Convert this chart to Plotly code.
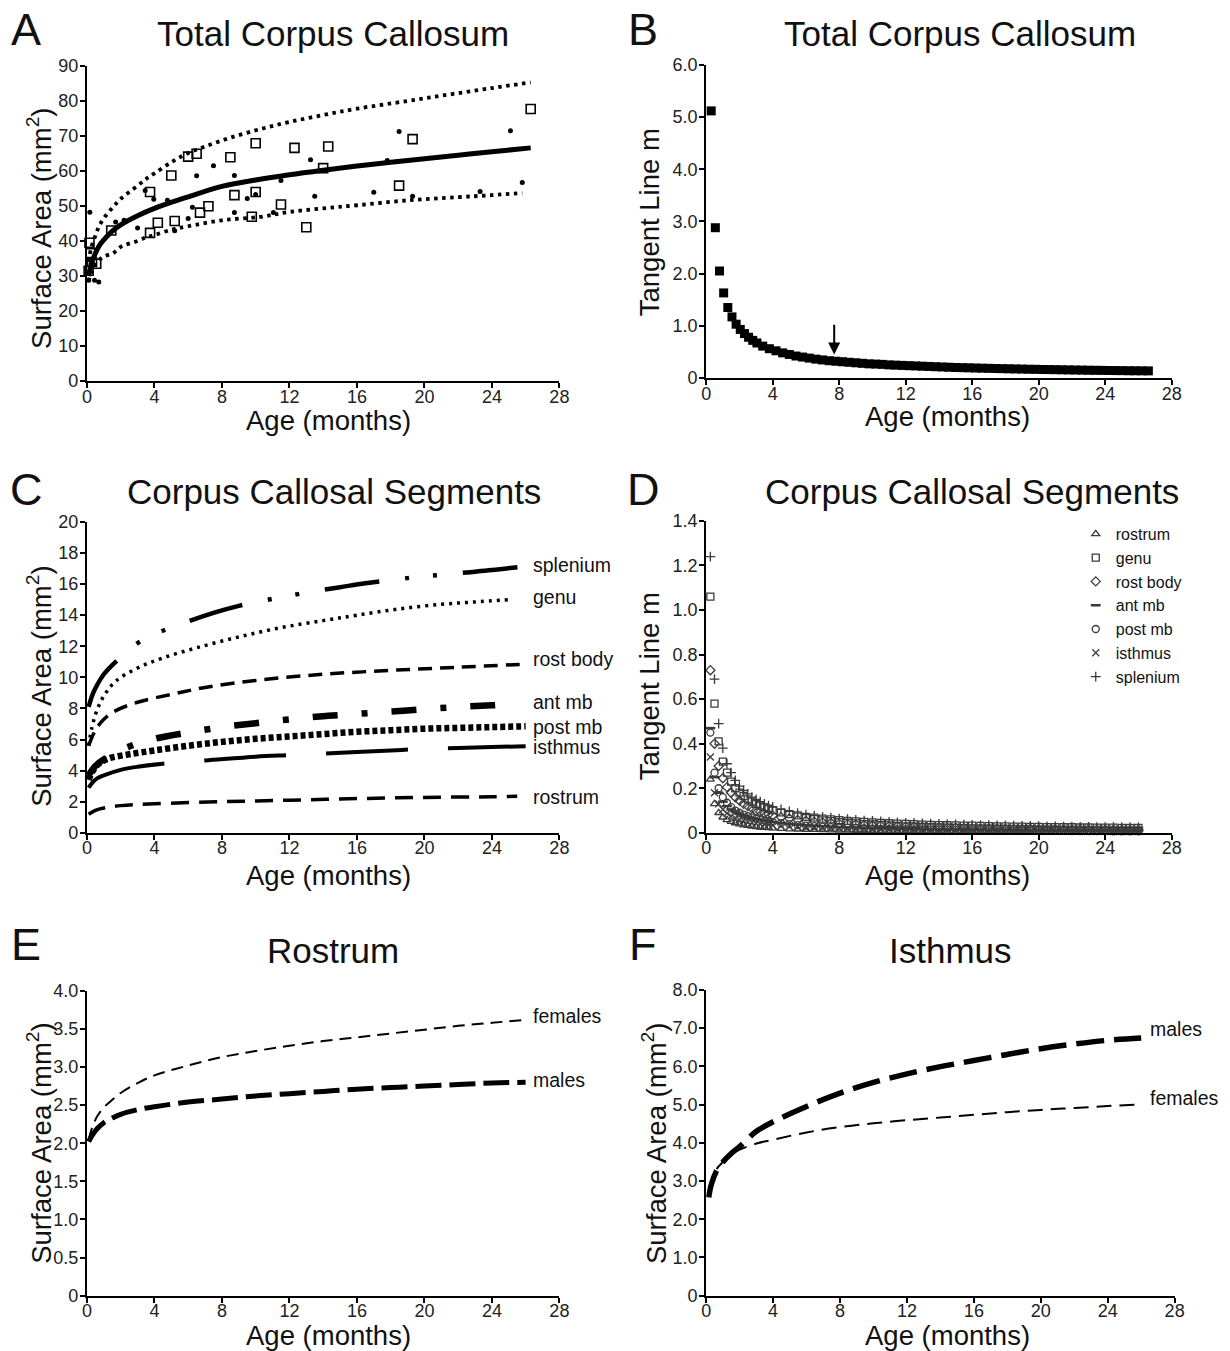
import plotly.graph_objects as go

W, H = 1230, 1351
FONT = "Liberation Sans, Arial, sans-serif"

# ---------------- Panel A: total corpus callosum surface area ----------------
a_sq_x = [0.1, 0.15, 0.2, 0.3, 0.55, 1.44, 3.74, 3.74, 4.2, 5.0, 5.2, 6.0, 6.5, 6.7, 7.2, 8.5, 8.74,
          10.0, 10.0, 9.77, 11.5, 12.3, 13.0, 14.0, 14.3, 18.5, 19.3, 26.3]
a_sq_y = [31.5, 39.5, 36.5, 34.0, 33.5, 43.0, 54.0, 42.3, 45.2, 58.7, 45.7, 64.1, 64.9, 48.1, 49.9, 63.9, 53.1,
          67.9, 54.0, 46.9, 50.4, 66.6, 43.9, 60.8, 67.0, 55.8, 69.1, 77.7]
a_dot_x = [0.17, 0.1, 0.45, 0.7, 0.25, 1.7, 2.2, 3.0, 3.45, 3.96, 4.77, 5.2, 6.0, 6.25, 6.5, 7.5, 8.74, 8.74,
           9.5, 10.0, 11.05, 11.5, 13.25, 13.5, 17.0, 17.8, 18.5, 19.3, 23.3, 25.1, 25.8]
a_dot_y = [48.2, 28.8, 28.8, 28.3, 34.5, 45.4, 45.9, 43.7, 54.4, 51.9, 51.6, 42.9, 46.4, 49.6, 58.6, 61.5, 58.7, 48.1,
           52.1, 53.3, 48.1, 57.3, 63.2, 52.8, 53.9, 63.0, 71.3, 52.8, 54.1, 71.5, 56.7]
a_fit_x = [0.1, 0.25, 0.5, 0.75, 1, 1.5, 2, 3, 4, 6, 8, 10, 12, 14, 16, 18, 20, 22, 24, 26.3]
a_fit_y = [30.0, 33.3, 36.5, 38.8, 40.3, 42.8, 44.6, 47.2, 49.3, 52.6, 55.6, 57.4, 58.9, 60.2, 61.4, 62.5, 63.5,
           64.5, 65.5, 66.6]
a_up_x = [0.1, 0.25, 0.5, 0.7, 1, 1.55, 2, 3, 3.5, 4, 5, 5.9, 7, 8.5, 10.3, 12, 14, 16, 19, 21, 24, 26.3]
a_up_y = [34.0, 38.0, 41.5, 44.0, 46.5, 49.7, 52.0, 55.8, 57.7, 59.3, 62.5, 64.9, 67.0, 69.5, 72.0, 74.0, 76.0,
          77.8, 80.0, 81.5, 83.7, 85.3]
a_lo_x = [0.1, 0.25, 0.5, 1, 1.55, 2, 3, 3.5, 4, 5, 6, 8, 10.3, 12, 14, 16, 19, 22, 24, 25.8]
a_lo_y = [28.5, 31.0, 33.5, 35.5, 36.5, 38.3, 40.0, 41.0, 41.7, 43.2, 44.2, 45.9, 46.9, 48.3, 49.3, 50.2, 51.6,
          52.5, 53.1, 53.7]

# ---------------- Panel B: tangent slope, total ----------------
b_x = [0.3, 0.55, 0.8, 1.05, 1.3, 1.55, 1.8, 2.05, 2.3, 2.55, 2.8, 3.05,
       3.4, 3.8, 4.2, 4.6, 5.0, 5.4, 5.8, 6.2, 6.6, 7.0, 7.4, 7.8, 8.2, 8.6, 9.0, 9.4, 9.8, 10.2,
       10.6, 11.0, 11.4, 11.8, 12.2, 12.6, 13.0, 13.4, 13.8, 14.2, 14.6, 15.0, 15.4, 15.8, 16.2, 16.6,
       17.0, 17.4, 17.8, 18.2, 18.6, 19.0, 19.4, 19.8, 20.2, 20.6, 21.0, 21.4, 21.8, 22.2, 22.6, 23.0,
       23.4, 23.8, 24.2, 24.6, 25.0, 25.4, 25.8, 26.2, 26.6]
b_m = [5.12, 2.88, 2.05, 1.63, 1.35, 1.17, 1.03, 0.93, 0.85, 0.78, 0.72, 0.67,
       0.61, 0.56, 0.52, 0.48, 0.45, 0.42, 0.40, 0.38, 0.36, 0.345, 0.33, 0.32, 0.31, 0.30, 0.29, 0.28,
       0.27, 0.265, 0.26, 0.25, 0.245, 0.24, 0.235, 0.23, 0.225, 0.22, 0.215, 0.21, 0.205, 0.20, 0.197,
       0.194, 0.19, 0.187, 0.184, 0.181, 0.178, 0.175, 0.172, 0.17, 0.167, 0.165, 0.162, 0.16, 0.158,
       0.156, 0.154, 0.152, 0.15, 0.148, 0.146, 0.145, 0.143, 0.141, 0.14, 0.138, 0.137, 0.136, 0.135]
b_arrow_x = 7.7
b_arrow_tip = 0.45
b_arrow_tail = 1.05

# ---------------- Panel C: segment fits ----------------
splenium_x = [0.1, 0.3, 0.5, 1.0, 1.7, 3.0, 4.5, 6.0, 7.5, 9.0, 10.5, 12.0, 13.5, 15.0, 16.5, 18.0, 19.5, 21.0,
              22.5, 24.0, 25.6]
splenium_y = [8.1, 8.8, 9.3, 10.2, 11.0, 12.2, 13.0, 13.6, 14.15, 14.6, 14.95, 15.25, 15.55, 15.8, 16.05, 16.25,
              16.45, 16.6, 16.75, 16.9, 17.1]
genu_x = [0.1, 0.3, 0.6, 1.0, 1.7, 3.0, 4.5, 6.5, 9.0, 11.5, 14.0, 16.0, 18.5, 21.0, 23.0, 25.0]
genu_y = [5.6, 6.8, 7.9, 8.8, 9.75, 10.6, 11.25, 11.9, 12.6, 13.2, 13.65, 14.0, 14.4, 14.7, 14.85, 15.0]
rostbody_x = [0.1, 0.5, 1.0, 1.6, 3.0, 5.0, 7.0, 10.0, 14.0, 18.0, 22.0, 26.0]
rostbody_y = [5.6, 6.6, 7.3, 7.8, 8.4, 8.9, 9.35, 9.8, 10.2, 10.45, 10.65, 10.85]
antmb_x = [0.1, 0.5, 1.1, 2.5, 4.2, 6.0, 8.0, 10.0, 12.0, 14.0, 16.0, 18.0, 20.0, 22.0, 24.0, 24.8]
antmb_y = [3.7, 4.3, 4.8, 5.55, 6.1, 6.45, 6.8, 7.05, 7.3, 7.5, 7.65, 7.8, 7.95, 8.1, 8.2, 8.25]
postmb_x = [0.1, 0.3, 0.6, 1.0, 1.5, 2.5, 4.0, 6.0, 8.0, 10.0, 12.0, 14.0, 16.0, 18.0, 20.0, 22.0, 24.0, 26.0]
postmb_y = [3.4, 3.9, 4.35, 4.65, 4.85, 5.05, 5.3, 5.6, 5.85, 6.05, 6.2, 6.35, 6.5, 6.6, 6.7, 6.75, 6.8, 6.85]
isthmus_x = [0.1, 0.3, 0.6, 1.0, 2.0, 3.0, 4.5, 7.0, 10.0, 12.0, 14.0, 16.0, 18.0, 20.0, 22.0, 24.0, 26.0]
isthmus_y = [2.9, 3.2, 3.5, 3.7, 4.05, 4.25, 4.45, 4.65, 4.9, 5.0, 5.1, 5.2, 5.3, 5.4, 5.45, 5.52, 5.57]
rostrum_x = [0.1, 0.5, 1.0, 2.0, 4.0, 8.0, 12.0, 16.0, 20.0, 24.0, 25.5]
rostrum_y = [1.2, 1.45, 1.6, 1.75, 1.87, 2.0, 2.1, 2.2, 2.28, 2.32, 2.35]
c_labels = ["splenium", "genu", "rost body", "ant mb", "post mb", "isthmus", "rostrum"]
c_label_y = [17.2, 15.2, 11.2, 8.4, 6.8, 5.5, 2.3]

# ---------------- Panel D: segment tangent slopes ----------------
d_x = [0.25, 0.5, 0.75, 1.0, 1.25, 1.5, 1.75, 2.0, 2.25, 2.5, 2.75, 3.0, 3.25, 3.5, 3.75, 4.0,
       4.5, 5.0, 5.5, 6.0, 6.5, 7.0, 7.5, 8.0, 8.5, 9.0, 9.5, 10.0, 10.5, 11.0, 11.5, 12.0, 12.5, 13.0,
       13.5, 14.0, 14.5, 15.0, 15.5, 16.0, 16.5, 17.0, 17.5, 18.0, 18.5, 19.0, 19.5, 20.0, 20.5, 21.0,
       21.5, 22.0, 22.5, 23.0, 23.5, 24.0, 24.5, 25.0, 25.5, 26.0]
d_rostrum = [0.24, 0.13, 0.09, 0.07, 0.058, 0.05, 0.044, 0.039, 0.035, 0.032, 0.029, 0.027, 0.025, 0.024, 0.022, 0.021,
             0.019, 0.017, 0.016, 0.015, 0.014, 0.013, 0.012, 0.011, 0.011, 0.010, 0.010, 0.009, 0.009, 0.008,
             0.008, 0.008, 0.007, 0.007, 0.007, 0.007, 0.006, 0.006, 0.006, 0.006, 0.006, 0.005, 0.005, 0.005,
             0.005, 0.005, 0.005, 0.005, 0.004, 0.004, 0.004, 0.004, 0.004, 0.004, 0.004, 0.004, 0.004, 0.004,
             0.004, 0.003]
d_genu = [1.06, 0.58, 0.41, 0.32, 0.27, 0.23, 0.20, 0.18, 0.165, 0.15, 0.14, 0.13, 0.122, 0.115, 0.108, 0.102,
          0.092, 0.084, 0.078, 0.072, 0.068, 0.064, 0.060, 0.057, 0.054, 0.051, 0.049, 0.047, 0.045, 0.043,
          0.041, 0.040, 0.039, 0.037, 0.036, 0.035, 0.034, 0.033, 0.032, 0.032, 0.031, 0.030, 0.029, 0.029,
          0.028, 0.028, 0.027, 0.027, 0.026, 0.026, 0.025, 0.025, 0.024, 0.024, 0.023, 0.023, 0.023, 0.022,
          0.022, 0.022]
d_rostbody = [0.73, 0.40, 0.30, 0.245, 0.205, 0.18, 0.16, 0.145, 0.13, 0.12, 0.11, 0.10, 0.095, 0.088, 0.083, 0.078,
              0.070, 0.064, 0.058, 0.054, 0.050, 0.047, 0.044, 0.041, 0.039, 0.037, 0.035, 0.033, 0.032, 0.030,
              0.029, 0.028, 0.027, 0.026, 0.025, 0.024, 0.023, 0.023, 0.022, 0.021, 0.021, 0.020, 0.020, 0.019,
              0.019, 0.018, 0.018, 0.017, 0.017, 0.017, 0.016, 0.016, 0.016, 0.015, 0.015, 0.015, 0.014, 0.014,
              0.014, 0.014]
d_antmb = [0.47, 0.25, 0.18, 0.14, 0.12, 0.105, 0.095, 0.085, 0.078, 0.072, 0.067, 0.062, 0.058, 0.055, 0.052, 0.049,
           0.044, 0.040, 0.037, 0.034, 0.032, 0.030, 0.028, 0.026, 0.025, 0.024, 0.023, 0.022, 0.021, 0.020,
           0.019, 0.018, 0.018, 0.017, 0.016, 0.016, 0.015, 0.015, 0.014, 0.014, 0.013, 0.013, 0.013, 0.012,
           0.012, 0.012, 0.011, 0.011, 0.011, 0.011, 0.010, 0.010, 0.010, 0.010, 0.009, 0.009, 0.009, 0.009,
           0.009, 0.008]
d_postmb = [0.45, 0.27, 0.20, 0.16, 0.135, 0.115, 0.10, 0.09, 0.082, 0.075, 0.069, 0.064, 0.059, 0.055, 0.052, 0.049,
            0.043, 0.039, 0.035, 0.032, 0.030, 0.028, 0.026, 0.024, 0.023, 0.022, 0.020, 0.019, 0.018, 0.018,
            0.017, 0.016, 0.015, 0.015, 0.014, 0.014, 0.013, 0.013, 0.012, 0.012, 0.012, 0.011, 0.011, 0.011,
            0.010, 0.010, 0.010, 0.009, 0.009, 0.009, 0.009, 0.008, 0.008, 0.008, 0.008, 0.008, 0.007, 0.007,
            0.007, 0.007]
d_isthmus = [0.34, 0.18, 0.13, 0.105, 0.088, 0.076, 0.067, 0.060, 0.055, 0.050, 0.046, 0.043, 0.040, 0.038, 0.036,
             0.034, 0.031, 0.028, 0.026, 0.024, 0.022, 0.021, 0.020, 0.019, 0.018, 0.017, 0.016, 0.015, 0.015,
             0.014, 0.014, 0.013, 0.013, 0.012, 0.012, 0.011, 0.011, 0.011, 0.010, 0.010, 0.010, 0.009, 0.009,
             0.009, 0.009, 0.008, 0.008, 0.008, 0.008, 0.008, 0.007, 0.007, 0.007, 0.007, 0.007, 0.007, 0.006,
             0.006, 0.006, 0.006]
d_splenium = [1.24, 0.69, 0.49, 0.38, 0.31, 0.27, 0.235, 0.21, 0.19, 0.175, 0.16, 0.15, 0.14, 0.13, 0.122, 0.116,
              0.105, 0.096, 0.088, 0.082, 0.077, 0.072, 0.068, 0.064, 0.061, 0.058, 0.055, 0.053, 0.051, 0.049,
              0.047, 0.045, 0.044, 0.042, 0.041, 0.040, 0.039, 0.038, 0.037, 0.036, 0.035, 0.034, 0.033, 0.033,
              0.032, 0.031, 0.031, 0.030, 0.029, 0.029, 0.028, 0.028, 0.027, 0.027, 0.026, 0.026, 0.025, 0.025,
              0.025, 0.024]

# ---------------- Panel E: rostrum by sex ----------------
e_x = [0.1, 0.3, 0.6, 1, 1.5, 2, 3, 4, 6, 8, 10, 12, 14, 16, 18, 20, 22, 24, 26]
e_females = [2.05, 2.2, 2.35, 2.47, 2.57, 2.66, 2.79, 2.89, 3.02, 3.13, 3.21, 3.28, 3.34, 3.39, 3.44, 3.49, 3.54,
             3.58, 3.62]
e_males = [2.02, 2.1, 2.19, 2.27, 2.33, 2.38, 2.44, 2.48, 2.54, 2.58, 2.62, 2.65, 2.68, 2.71, 2.73, 2.75, 2.77,
           2.79, 2.8]

# ---------------- Panel F: isthmus by sex ----------------
f_x = [0.15, 0.3, 0.6, 1, 1.5, 2, 3, 4, 6, 8, 10, 12, 14, 16, 18, 20, 22, 24, 26]
f_males = [2.57, 2.9, 3.25, 3.5, 3.72, 3.9, 4.3, 4.55, 4.95, 5.3, 5.58, 5.8, 5.99, 6.15, 6.31, 6.46, 6.58, 6.68, 6.74]
f_females = [2.75, 3.0, 3.3, 3.5, 3.7, 3.82, 3.98, 4.08, 4.27, 4.41, 4.51, 4.59, 4.66, 4.73, 4.8, 4.86, 4.91, 4.96,
             5.0]

x_ticks = [0, 4, 8, 12, 16, 20, 24, 28]

# photographed page is slightly rescaled; compensate pixel placement
XS, XO = 0.989, 3.95
YS, YO = 0.9854, 10.0


def pxx(x):
    return ((x - XO) / XS) / W


def pyy(y):
    return 1 - ((y - YO) / YS) / H


fig = go.Figure()

# Panel A
for ux, uy in [(a_up_x, a_up_y), (a_lo_x, a_lo_y)]:
    fig.add_trace(go.Scatter(x=ux, y=uy, mode="lines",
                             line=dict(color="black", width=3.8, dash="3.5px,4.5px", shape="spline"),
                             xaxis="x", yaxis="y", showlegend=False))
fig.add_trace(go.Scatter(x=a_fit_x, y=a_fit_y, mode="lines", line=dict(color="black", width=5, shape="spline"),
                         xaxis="x", yaxis="y", showlegend=False))
fig.add_trace(go.Scatter(x=a_sq_x, y=a_sq_y, mode="markers", cliponaxis=False,
                         marker=dict(symbol="square-open", size=9, color="black", line=dict(width=1.6)),
                         xaxis="x", yaxis="y", showlegend=False))
fig.add_trace(go.Scatter(x=a_dot_x, y=a_dot_y, mode="markers", cliponaxis=False,
                         marker=dict(symbol="circle", size=5, color="black"),
                         xaxis="x", yaxis="y", showlegend=False))

# Panel B
fig.add_trace(go.Scatter(x=b_x, y=b_m, mode="markers", cliponaxis=False,
                         marker=dict(symbol="square", size=9, color="black"),
                         xaxis="x2", yaxis="y2", showlegend=False))

# Panel C
c_series = [
    (splenium_x, splenium_y, 4.5, "55px,26px,4px,24px,4px,26px"),
    (genu_x, genu_y, 3.5, "3px,5px"),
    (rostbody_x, rostbody_y, 3.5, "14px,8px"),
    (antmb_x, antmb_y, 6.5, "25px,24px,6px,24px"),
    (postmb_x, postmb_y, 6.5, "5px,3px"),
    (isthmus_x, isthmus_y, 4, "82px,40px"),
    (rostrum_x, rostrum_y, 3.5, "18px,10px"),
]
for sx, sy, w, d in c_series:
    fig.add_trace(go.Scatter(x=sx, y=sy, mode="lines", line=dict(color="black", width=w, dash=d, shape="spline"),
                             xaxis="x3", yaxis="y3", showlegend=False))

# Panel D
d_series = [
    ("rostrum", d_rostrum, "triangle-up-open"),
    ("genu", d_genu, "square-open"),
    ("rost body", d_rostbody, "diamond-open"),
    ("ant mb", d_antmb, "line-ew-open"),
    ("post mb", d_postmb, "circle-open"),
    ("isthmus", d_isthmus, "x-thin-open"),
    ("splenium", d_splenium, "cross-thin-open"),
]
for name, vals, sym in d_series:
    fig.add_trace(go.Scatter(x=d_x, y=vals, mode="markers", name=name, cliponaxis=False,
                             marker=dict(symbol=sym, size=7, color="#3a3a3a",
                                         line=dict(width=1.3 if sym != "line-ew-open" else 2.5, color="#3a3a3a")),
                             xaxis="x4", yaxis="y4", showlegend=True))

# Panel E
fig.add_trace(go.Scatter(x=e_x, y=e_females, mode="lines", line=dict(color="black", width=2, dash="12px,7px", shape="spline"),
                         xaxis="x5", yaxis="y5", showlegend=False))
fig.add_trace(go.Scatter(x=e_x, y=e_males, mode="lines", line=dict(color="black", width=5, dash="26px,8px", shape="spline"),
                         xaxis="x5", yaxis="y5", showlegend=False))

# Panel F
fig.add_trace(go.Scatter(x=f_x, y=f_females, mode="lines", line=dict(color="black", width=2, dash="15px,8px", shape="spline"),
                         xaxis="x6", yaxis="y6", showlegend=False))
fig.add_trace(go.Scatter(x=f_x, y=f_males, mode="lines", line=dict(color="black", width=5.5, dash="28px,10px", shape="spline"),
                         xaxis="x6", yaxis="y6", showlegend=False))

TICKFONT = dict(size=18, color="#222", family=FONT)


def xaxis(x0, x1, anchor):
    return dict(domain=[pxx(x0), pxx(x1)], range=[0, 28], tickvals=x_ticks, anchor=anchor,
                showline=True, linecolor="black", linewidth=2, ticks="outside", ticklen=5, tickwidth=2,
                tickcolor="black", showgrid=False, zeroline=False, fixedrange=True, tickfont=TICKFONT,
                ticklabelstandoff=-7)


def yaxis(y_top, y_bot, rng, tv, tt, anchor):
    return dict(domain=[pyy(y_bot), pyy(y_top)], range=rng, tickvals=tv, ticktext=tt, anchor=anchor,
                showline=True, linecolor="black", linewidth=2, ticks="outside", ticklen=5, tickwidth=2,
                tickcolor="black", showgrid=False, zeroline=False, fixedrange=True, tickfont=TICKFONT,
                ticklabelstandoff=-2)


a_yt = list(range(0, 91, 10))
b_yt = [0, 1, 2, 3, 4, 5, 6]
c_yt = list(range(0, 21, 2))
d_yt = [0, 0.2, 0.4, 0.6, 0.8, 1.0, 1.2, 1.4]
e_yt = [0, 0.5, 1.0, 1.5, 2.0, 2.5, 3.0, 3.5, 4.0]
f_yt = [0, 1, 2, 3, 4, 5, 6, 7, 8]

layout = dict(
    width=W, height=H, margin=dict(l=0, r=0, t=0, b=0),
    paper_bgcolor="white", plot_bgcolor="white",
    font=dict(family=FONT, color="#111"),
    xaxis=xaxis(86, 559, "y"),
    yaxis=yaxis(66, 381, [0, 90], a_yt, [str(v) for v in a_yt], "x"),
    xaxis2=xaxis(706, 1172, "y2"),
    yaxis2=yaxis(65, 378, [0, 6], b_yt, ["0"] + [f"{v:.1f}" for v in b_yt[1:]], "x2"),
    xaxis3=xaxis(86, 559, "y3"),
    yaxis3=yaxis(522, 833, [0, 20], c_yt, [str(v) for v in c_yt], "x3"),
    xaxis4=xaxis(706, 1172, "y4"),
    yaxis4=yaxis(521, 833, [0, 1.4], d_yt, ["0"] + [f"{v:.1f}" for v in d_yt[1:]], "x4"),
    xaxis5=xaxis(86, 559, "y5"),
    yaxis5=yaxis(991, 1296, [0, 4], e_yt, ["0"] + [f"{v:.1f}" for v in e_yt[1:]], "x5"),
    xaxis6=xaxis(706, 1175, "y6"),
    yaxis6=yaxis(990, 1296, [0, 8], f_yt, ["0"] + [f"{v:.1f}" for v in f_yt[1:]], "x6"),
    legend=dict(x=pxx(1076), y=pyy(517), xanchor="left", yanchor="top", bgcolor="rgba(0,0,0,0)",
                font=dict(size=16, color="#111", family=FONT), tracegroupgap=0, itemwidth=30),
    showlegend=True,
)
fig.update_layout(**layout)

ann = []


def text(x, y, s, size, **kw):
    d = dict(x=pxx(x), y=pyy(y), xref="paper", yref="paper", text=s, showarrow=False,
             font=dict(size=size, color="#111", family=FONT), xanchor="center", yanchor="middle")
    d.update(kw)
    ann.append(d)


# panel letters
for lx, ly, s in [(25, 30, "A"), (643, 30, "B"), (25, 490, "C"), (643, 490, "D"), (25, 945, "E"), (643, 945, "F")]:
    text(lx, ly, s, 45)
# titles
for tx, ty, s in [(332, 34, "Total Corpus Callosum"), (960, 34, "Total Corpus Callosum"),
                  (333, 492, "Corpus Callosal Segments"), (972, 492, "Corpus Callosal Segments"),
                  (332, 951, "Rostrum"), (951, 951, "Isthmus")]:
    text(tx, ty, s, 35)
# x titles
for tx, ty in [(328, 421), (948, 417), (328, 876), (948, 876), (328, 1336), (948, 1336)]:
    text(tx, ty, "Age (months)", 27.5)
# y titles
SA = "Surface Area (mm<sup>2</sup>)"
for tx, ty, s in [(39, 228, SA), (650, 222, "Tangent Line m"), (39, 686, SA), (650, 686, "Tangent Line m"),
                  (39, 1143, SA), (655, 1143, SA)]:
    text(tx, ty, s, 27.5, textangle=-90)

# curve labels (data coords)
LBL = dict(size=19.5, color="#111", family=FONT)
for lab, ly in zip(c_labels, c_label_y):
    ann.append(dict(x=26.3, y=ly, xref="x3", yref="y3", text=lab, showarrow=False, xanchor="left",
                    yanchor="middle", font=LBL))
for lab, lx, ly, xr, yr in [("females", 26.3, 3.67, "x5", "y5"), ("males", 26.3, 2.83, "x5", "y5"),
                            ("males", 26.4, 6.97, "x6", "y6"), ("females", 26.4, 5.17, "x6", "y6")]:
    ann.append(dict(x=lx, y=ly, xref=xr, yref=yr, text=lab, showarrow=False, xanchor="left",
                    yanchor="middle", font=LBL))

# arrow in panel B
ann.append(dict(x=b_arrow_x, y=b_arrow_tip, xref="x2", yref="y2", ax=b_arrow_x, ay=b_arrow_tail,
                axref="x2", ayref="y2", text="", showarrow=True, arrowhead=2, arrowsize=1.2, arrowwidth=2,
                arrowcolor="black"))

fig.update_layout(annotations=ann)
fig.write_html("out.html", config={"displayModeBar": False},
               post_script="document.body.style.margin='0';document.body.style.padding='0';")
